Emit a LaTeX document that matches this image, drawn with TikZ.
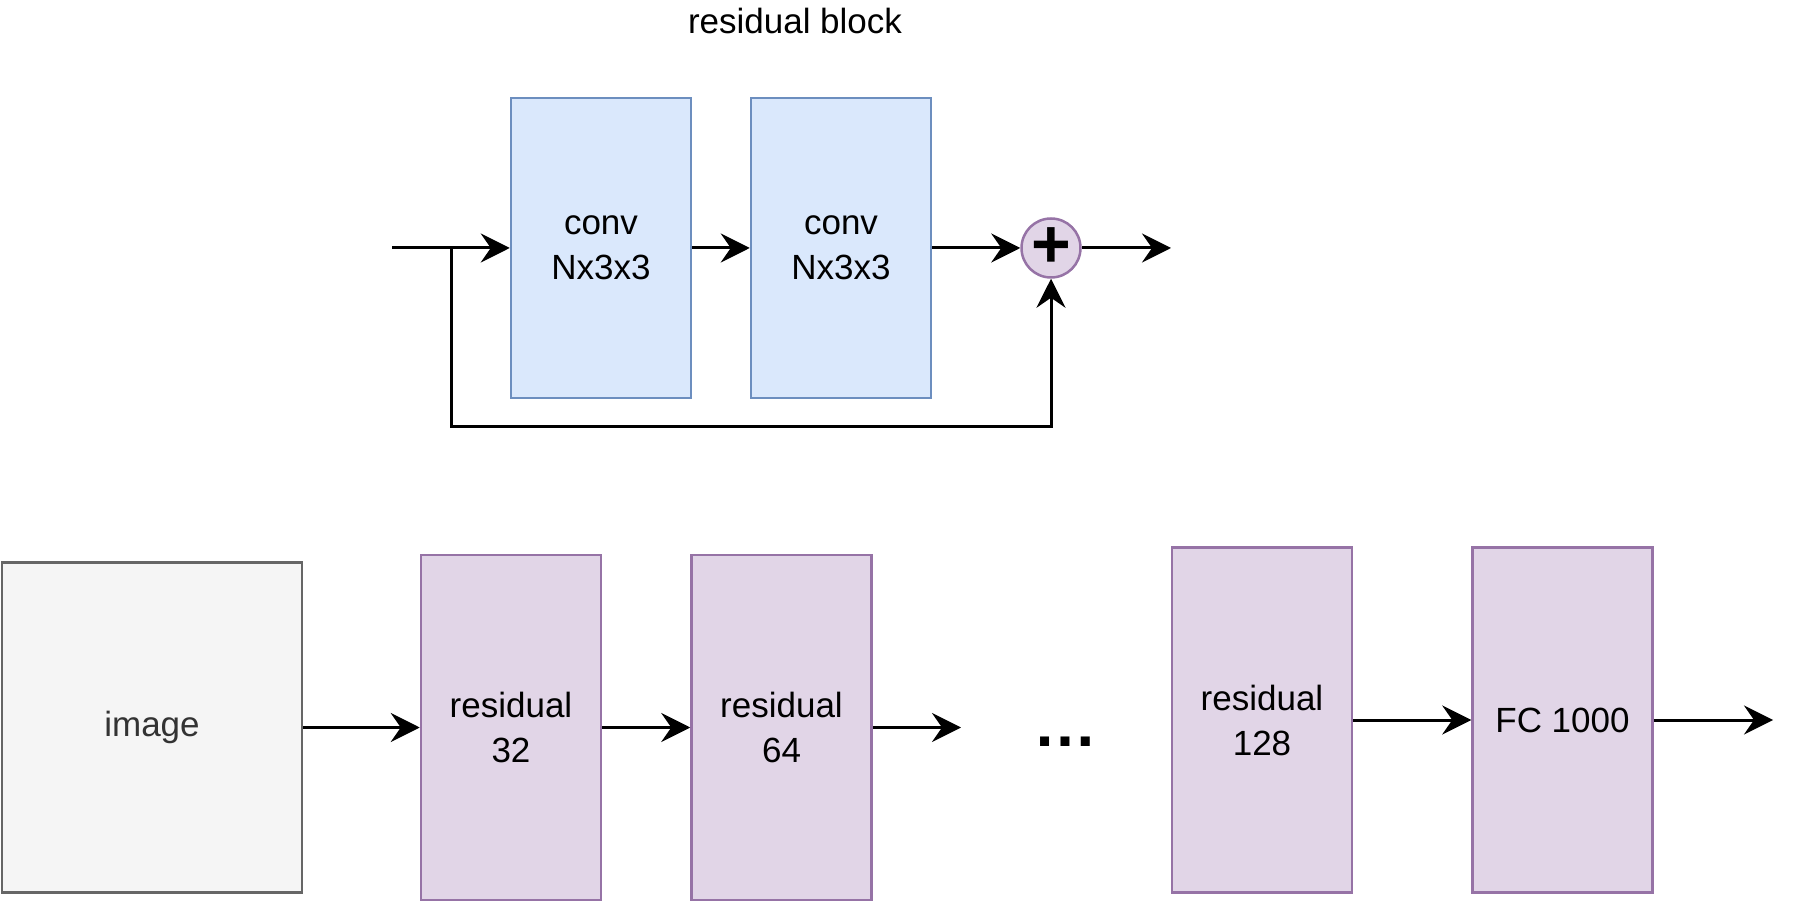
\documentclass[tikz,border=0pt]{standalone}
\usepackage{fontspec}
\setmainfont{Liberation Sans}
\usetikzlibrary{arrows.meta,positioning,shapes.geometric}

\definecolor{convfill}{HTML}{DAE8FC}
\definecolor{convline}{HTML}{6C8EBF}
\definecolor{resfill}{HTML}{E1D5E7}
\definecolor{resline}{HTML}{9673A6}
\definecolor{imgfill}{HTML}{F5F5F5}
\definecolor{imgline}{HTML}{666666}
\definecolor{imgtext}{HTML}{333333}

\begin{document}
\begin{tikzpicture}[%
    x=0.5pt, y=-0.5pt,          % one unit is one pixel of the drawing
    >={Stealth[length=14.5pt,width=14.5pt,inset=5pt]},
    font=\fontsize{17.5}{22.5}\selectfont,
    ]
\tikzset{
  base/.style={draw, align=center, line width=1.25pt, inner sep=0pt},
  conv/.style={base, fill=convfill, draw=convline, minimum width=90pt, minimum height=150pt},
  res/.style={base, fill=resfill, draw=resline, minimum width=90pt, minimum height=172.5pt},
  img/.style={base, fill=imgfill, draw=imgline, text=imgtext, minimum width=150pt, minimum height=165pt},
  sum/.style={base, circle, fill=resfill, draw=resline, minimum size=29.5pt, font=\fontsize{34}{34}\selectfont\bfseries},
  ln/.style={line width=1.5pt},
  ar/.style={ln, ->}
}
    \useasboundingbox (0,0) rectangle (1800,903);
    % residual block
    \node (title) at (795,21) {residual block};
    \coordinate (in) at (392,248);
    \coordinate (split) at (451,248);
    \node [conv] (conv1) at (601,248) {conv\\Nx3x3};
    \node [conv] (conv2) at (841,248) {conv\\Nx3x3};
    \node [sum] (plus) at (1051,248) {\raisebox{-0.06em}{+}};
    \coordinate (out) at (1171,248);
    \coordinate (loop) at (451,427);
        \draw [ln] (in) -- (split);
        \draw [ar] (split) -- (conv1.west);
        \draw [ar] (conv1) -- (conv2);
        \draw [ar] (conv2) -- (plus);
        \draw [ar] (plus) -- (out);
        \draw [ar] (split) -- (loop) -| (plus.south);
    % network
    \node [img] (image) at (152,727.5) {image};
    \node [res] (res32) at (511,727.5) {residual\\32};
    \node [res] (res64) at (781.5,727.5) {residual\\64};
    \coordinate (more) at (961,727.5);
    \node (dots) at (1065,742) {\fontsize{32}{32}\selectfont\bfseries …};
    \node [res] (res128) at (1262,720) {residual\\128};
    \node [res] (fc) at (1562.5,720) {FC 1000};
    \coordinate (end) at (1773,720);
        \draw [ar] (image) -- (res32);
        \draw [ar] (res32) -- (res64);
        \draw [ar] (res64) -- (more);
        \draw [ar] (res128) -- (fc);
        \draw [ar] (fc) -- (end);
\end{tikzpicture}
\end{document}
